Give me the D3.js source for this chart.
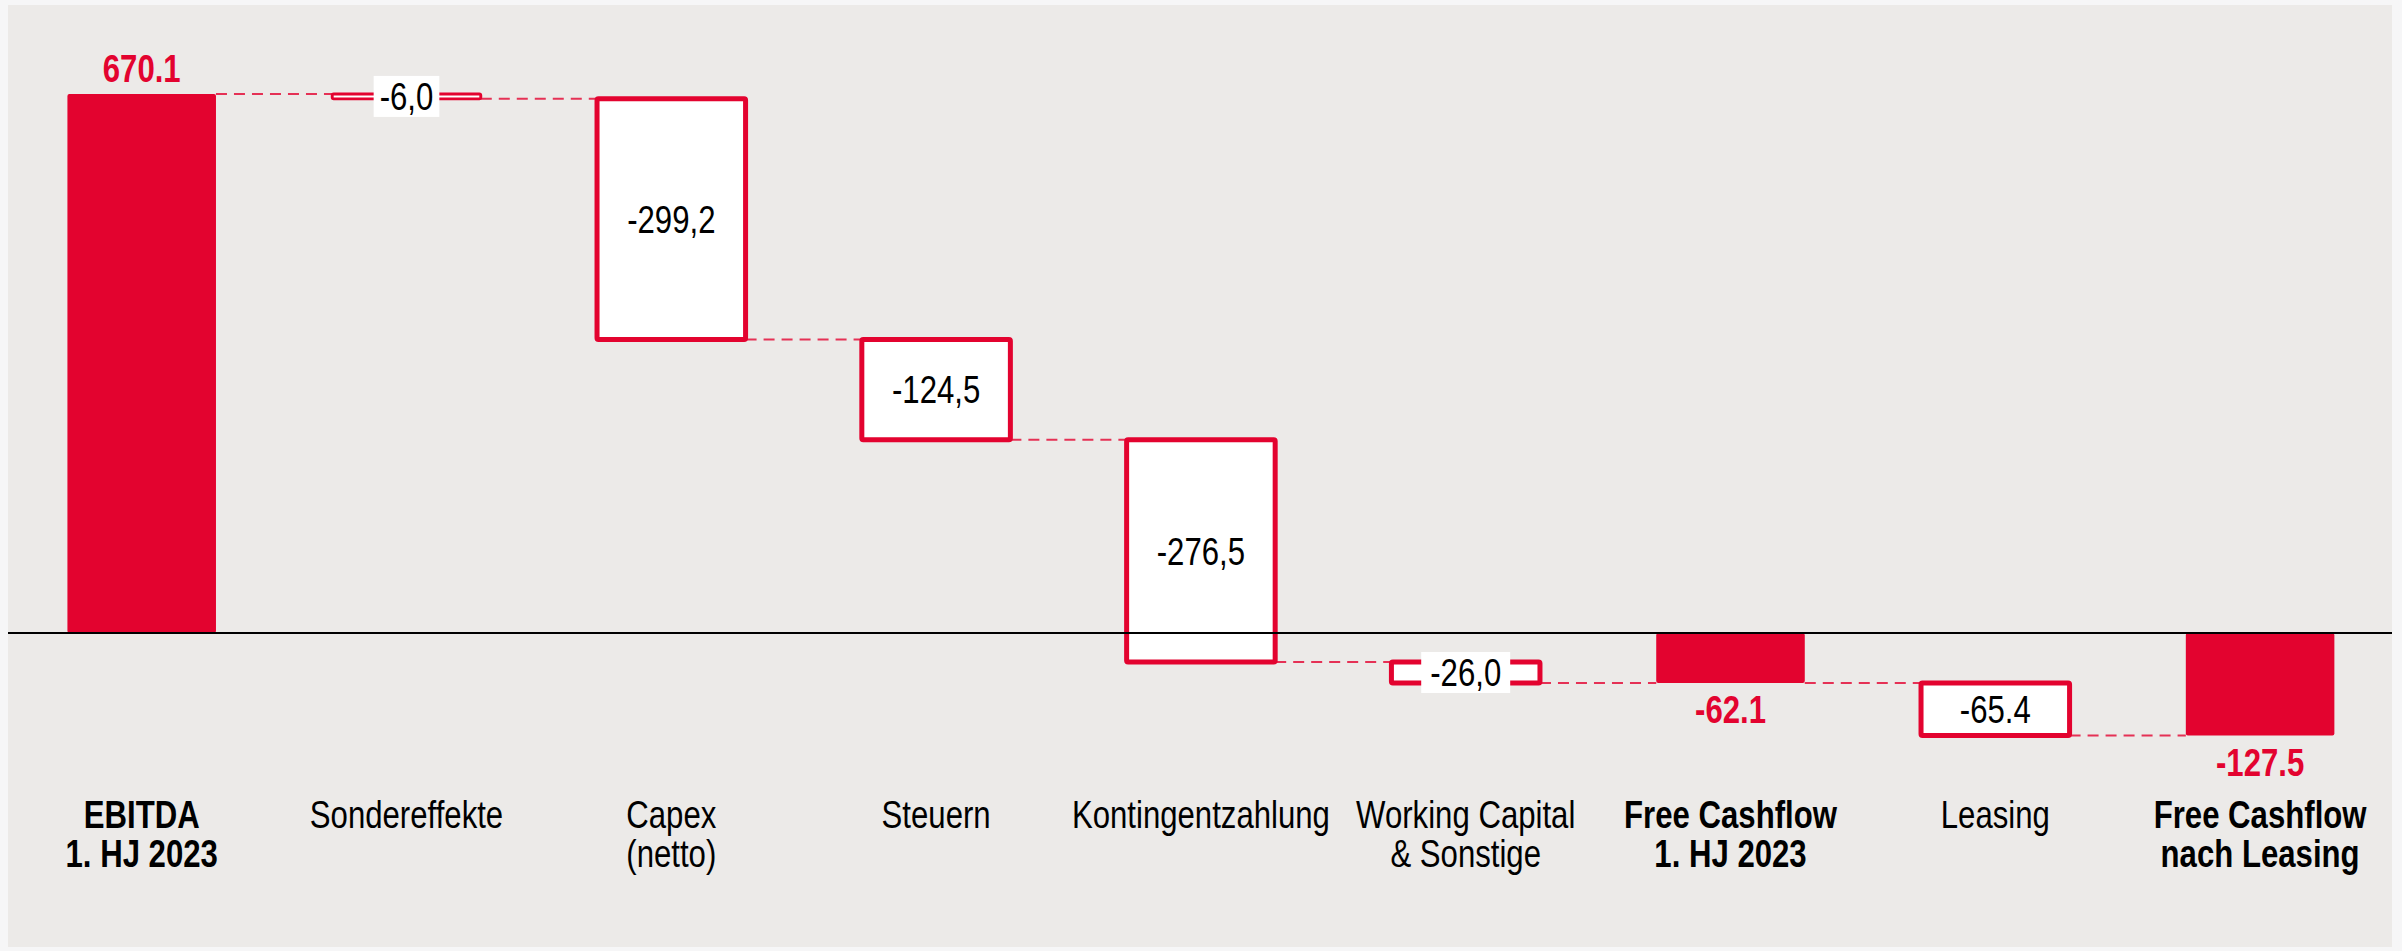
<!DOCTYPE html>
<html>
<head>
<meta charset="utf-8">
<script src="https://cdn.jsdelivr.net/npm/d3@7/dist/d3.min.js"></script>
<style>
  html, body { margin: 0; padding: 0; background: #F6F6F7; }
  svg { display: block; }
</style>
</head>
<body>
<svg id="chart" width="2402" height="951"></svg>
<script>
// ---- data ----
const categories = [
  ["EBITDA", "1. HJ 2023"],
  ["Sondereffekte"],
  ["Capex", "(netto)"],
  ["Steuern"],
  ["Kontingentzahlung"],
  ["Working Capital", "& Sonstige"],
  ["Free Cashflow", "1. HJ 2023"],
  ["Leasing"],
  ["Free Cashflow", "nach Leasing"]
];
const values = [670.1, -6.0, -299.2, -124.5, -276.5, -26.0, -62.1, -65.4, -127.5];
const barTypes = ["total", "delta", "delta", "delta", "delta", "delta", "total", "delta", "total"];
const valueLabels = ["670.1", "-6,0", "-299,2", "-124,5", "-276,5", "-26,0", "-62.1", "-65.4", "-127.5"];

// ---- styling ----
const RED = "#E3032F";
const BG = "#ECEAE8";
const FONT = "'Liberation Sans Narrow', 'Arial Narrow', 'Liberation Sans', Arial, sans-serif";
const FS = 38;
const SX = 0.82; // horizontal condensing

const svg = d3.select("#chart");

// panel
svg.append("rect").attr("x", 8).attr("y", 5).attr("width", 2384).attr("height", 942).attr("fill", BG);

// compute waterfall
let running = 0;
const bars = values.map((v, i) => {
  let start, end;
  if (barTypes[i] === "total") { start = 0; end = v; running = v; }
  else { start = running; end = running + v; running = end; }
  return { i, key: String(i), v, start, end, type: barTypes[i], label: valueLabels[i], cat: categories[i] };
});

const x = d3.scaleBand()
  .domain(bars.map(d => d.key))
  .range([9.3, 2392.5])
  .paddingInner(0.439)
  .paddingOuter(0.2195);

const y = d3.scaleLinear().domain([0, 670.1]).range([633, 94]);

// connectors
const conn = svg.append("g");
for (let k = 0; k < bars.length - 1; k++) {
  const a = bars[k], b = bars[k + 1];
  const level = a.end;
  conn.append("line")
    .attr("x1", x(a.key) + x.bandwidth())
    .attr("x2", x(b.key))
    .attr("y1", y(level)).attr("y2", y(level))
    .attr("stroke", RED).attr("stroke-opacity", 0.8)
    .attr("stroke-width", 2)
    .attr("stroke-dasharray", "11,7");
}

// bars
const g = svg.append("g");
bars.forEach(d => {
  const top = y(Math.max(d.start, d.end));
  const bot = y(Math.min(d.start, d.end));
  const h = bot - top;
  if (d.type === "total") {
    g.append("rect")
      .attr("x", x(d.key)).attr("y", top)
      .attr("width", x.bandwidth()).attr("height", h)
      .attr("rx", 2)
      .attr("fill", RED);
  } else {
    g.append("rect")
      .attr("x", x(d.key)).attr("y", top)
      .attr("width", x.bandwidth()).attr("height", h)
      .attr("rx", 1.5)
      .attr("fill", "#fff").attr("stroke", RED).attr("stroke-width", Math.min(5, h * 0.6));
  }
});

// zero line
svg.append("line")
  .attr("x1", 8).attr("x2", 2392)
  .attr("y1", y(0)).attr("y2", y(0))
  .attr("stroke", "#000").attr("stroke-width", 2);

// value labels
const lab = svg.append("g").attr("font-family", FONT).attr("font-size", FS).attr("text-anchor", "middle");
bars.forEach(d => {
  const cx = x(d.key) + x.bandwidth() / 2;
  if (d.type === "total") {
    const ty = d.v >= 0 ? y(d.v) - 12 : y(d.v) + 40;
    lab.append("text").attr("transform", `translate(${cx},${ty}) scale(${SX},1)`)
      .attr("fill", RED).attr("font-weight", "bold").text(d.label);
  } else {
    const cy = (y(d.start) + y(d.end)) / 2;
    const h = Math.abs(y(d.start) - y(d.end));
    const t = lab.append("text")
      .attr("transform", `translate(${cx},${cy + 13.7}) scale(${SX},1)`)
      .attr("fill", "#000").text(d.label);
    if (h < 45) {
      const w = t.node().getBBox().width * SX;
      const pad = w < 60 ? 6 : 9;
      lab.insert("rect", function() { return t.node(); })
        .attr("x", cx - w / 2 - pad).attr("y", cy - 20.5)
        .attr("width", w + 2 * pad).attr("height", 41)
        .attr("fill", "#fff");
    }
  }
});

// category labels
const cl = svg.append("g").attr("font-family", FONT).attr("font-size", FS).attr("text-anchor", "middle").attr("fill", "#000");
bars.forEach(d => {
  const cx = x(d.key) + x.bandwidth() / 2;
  const t = cl.append("text").attr("transform", `translate(${cx},827.5) scale(${SX},1)`)
    .attr("font-weight", d.type === "total" ? "bold" : "normal");
  d.cat.forEach((line, j) => {
    t.append("tspan").attr("x", 0).attr("y", j * 40).text(line);
  });
});
</script>
</body>
</html>
